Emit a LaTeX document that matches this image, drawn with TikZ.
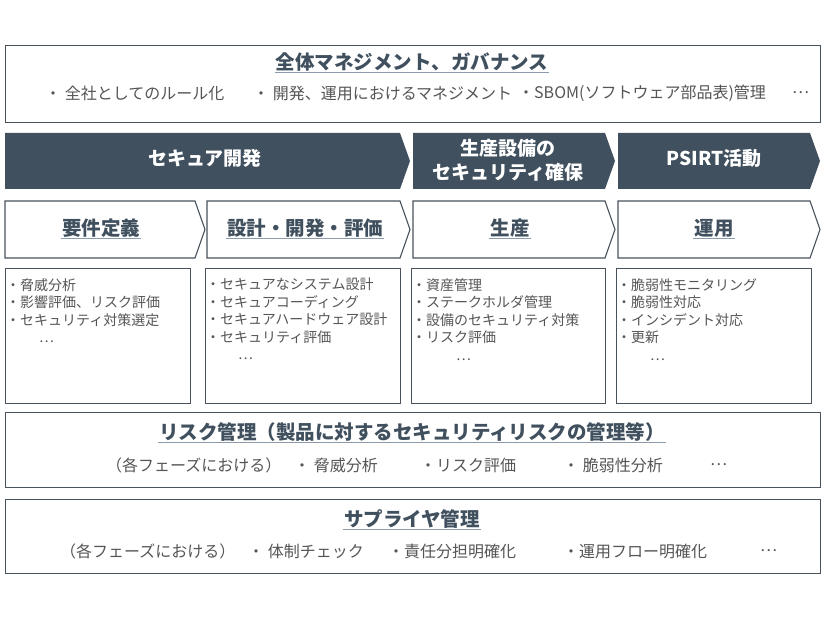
\documentclass[tikz,border=0pt]{standalone}
\usepackage{fontspec}
\setmainfont{Noto Sans CJK JP}
\usepackage{xcolor}
\definecolor{sec_dark}{RGB}{64, 80, 94}
\definecolor{sec_line}{RGB}{72, 82, 92}
\definecolor{sec_text}{RGB}{85, 85, 85}
\definecolor{sec_uline}{RGB}{140, 155, 172}
\usetikzlibrary{positioning}

% chevron: style, left x, tip x, top y, bottom y
\newcommand{\phasearrow}[5]{%
  \draw[#1] (#2,#4) -- (#3-10,#4) -- (#3,{(#4+#5)/2}) -- (#3-10,#5) -- (#2,#5) -- cycle;}

\begin{document}
\begin{tikzpicture}[x=1pt, y=-1pt,
      frame/.style={draw=sec_line, line width=1.1pt, fill=white,
                    anchor=north west, inner sep=0pt},
      darkarr/.style={fill=sec_dark, draw=none},
      whitearr/.style={draw=sec_line, line width=1.1pt, fill=white},
      head/.style={font=\fontsize{19.5}{22}\selectfont\bfseries, text=sec_dark,
                   inner sep=1pt,
                   append after command={(\tikzlastnode.south west)
                     edge[sec_uline, line width=1.2pt] (\tikzlastnode.south east)}},
      phase/.style={font=\fontsize{19}{24}\selectfont\bfseries, text=white,
                    align=center, inner sep=0pt},
      item/.style={font=\fontsize{16}{18}\selectfont, text=sec_text,
                   anchor=west, inner sep=0pt},
      detail/.style={font=\fontsize{14}{17.5}\selectfont, text=sec_text,
                     anchor=north west, align=left, inner sep=0pt},
    ]
      \useasboundingbox (0,0) rectangle (826,620);

      % governance
      \node[frame, minimum width=815, minimum height=77] (gov) at (5,45) {};
      \node[head] (govt) at (412,62) {全体マネジメント、ガバナンス};
      \node[item] (gov1) at (45,93)  {・ 全社としてのルール化};
      \node[item] (gov2) at (253,93) {・ 開発、運用におけるマネジメント};
      \node[item] (gov3) at (518,93) {・SBOM(ソフトウェア部品表)管理};
      \node[item] (gov4) at (792,93) {…};

      % phases
      \phasearrow{darkarr}{5}{410}{133}{189}
      \phasearrow{darkarr}{413}{615}{133}{189}
      \phasearrow{darkarr}{618}{820}{133}{189}
      \node[phase] (ph1) at (205,158) {セキュア開発};
      \node[phase] (ph2) at (508,160) {生産設備の\\セキュリティ確保};
      \node[phase] (ph3) at (714,158) {PSIRT活動};

      \phasearrow{whitearr}{5}{205}{201}{258}
      \phasearrow{whitearr}{207}{410}{201}{258}
      \phasearrow{whitearr}{413}{615}{201}{258}
      \phasearrow{whitearr}{618}{820}{201}{258}
      \node[head] (st1) at (101,228) {要件定義};
      \node[head] (st2) at (305,228) {設計・開発・評価};
      \node[head] (st3) at (510,228) {生産};
      \node[head] (st4) at (714,228) {運用};

      % details
      \node[frame, minimum width=185, minimum height=135] (box1) at (5,268) {};
      \node[frame, minimum width=195, minimum height=135] (box2) at (205,268) {};
      \node[frame, minimum width=194, minimum height=135] (box3) at (411,268) {};
      \node[frame, minimum width=195, minimum height=135] (box4) at (616,268) {};
      \node[detail] (txt1) at (6,278)
            {・脅威分析\\・影響評価、リスク評価\\・セキュリティ対策選定\\\hspace{33pt}…};
      \node[detail] (txt2) at (206,278)
            {・セキュアなシステム設計\\・セキュアコーディング\\・セキュアハードウェア設計\\・セキュリティ評価\\\hspace{32pt}…};
      \node[detail] (txt3) at (412,278)
            {・資産管理\\・ステークホルダ管理\\・設備のセキュリティ対策\\・リスク評価\\\hspace{44pt}…};
      \node[detail] (txt4) at (617,278)
            {・脆弱性モニタリング\\・脆弱性対応\\・インシデント対応\\・更新\\\hspace{33pt}…};

      % risk
      \node[frame, minimum width=815, minimum height=75] (risk) at (5,412) {};
      \node[head] (riskt) at (412,432) {リスク管理（製品に対するセキュリティリスクの管理等）};
      \node[item] (risk1) at (106,465) {（各フェーズにおける）};
      \node[item] (risk2) at (294,465) {・ 脅威分析};
      \node[item] (risk3) at (420,465) {・リスク評価};
      \node[item] (risk4) at (563,465) {・ 脆弱性分析};
      \node[item] (risk5) at (710,465) {…};

      % supplier
      \node[frame, minimum width=815, minimum height=74] (sup) at (5,499) {};
      \node[head] (supt) at (412,519) {サプライヤ管理};
      \node[item] (sup1) at (60,551)  {（各フェーズにおける）};
      \node[item] (sup2) at (248,551) {・ 体制チェック};
      \node[item] (sup3) at (388,551) {・責任分担明確化};
      \node[item] (sup4) at (563,551) {・運用フロー明確化};
      \node[item] (sup5) at (760,551) {…};
    \end{tikzpicture}
\end{document}
